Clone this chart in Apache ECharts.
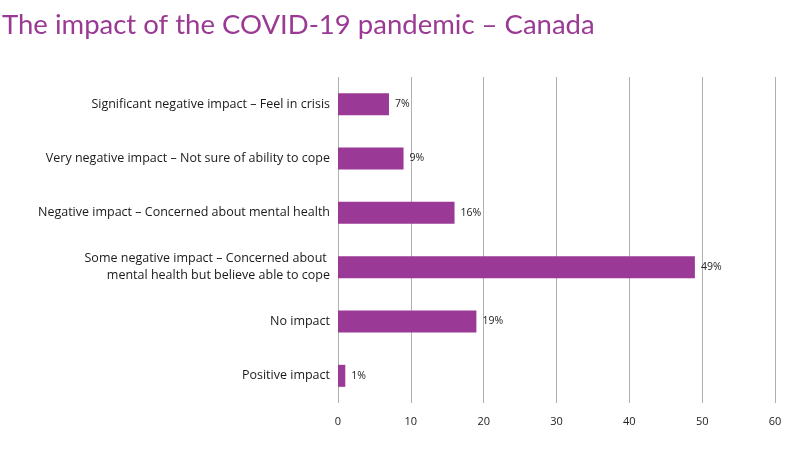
<!DOCTYPE html>
<html>
<head>
<meta charset="utf-8">
<script src="https://cdn.jsdelivr.net/npm/echarts@6/dist/echarts.min.js"></script>
<style>html,body{margin:0;padding:0;background:#fff;}#c{width:800px;height:450px;}</style>
</head>
<body>
<div id="c"></div>
<script>
var categories = [
  "Significant negative impact – Feel in crisis",
  "Very negative impact – Not sure of ability to cope",
  "Negative impact – Concerned about mental health",
  "Some negative impact – Concerned about \nmental health but believe able to cope",
  "No impact",
  "Positive impact"
];
var values = [7, 9, 16, 49, 19, 1];
var xTicks = [0, 10, 20, 30, 40, 50, 60];

var chart = echarts.init(document.getElementById('c'));
chart.setOption({
  animation: false,
  title: {
    text: 'The impact of the COVID-19 pandemic – Canada',
    left: -3, top: 6,
    textStyle: { color: '#9b3a94', fontSize: 27.5, fontWeight: 'normal', fontFamily: 'Lato' }
  },
  grid: { left: 338, right: 25, top: 77, bottom: 47 },
  xAxis: {
    type: 'value', min: xTicks[0], max: xTicks[xTicks.length-1], interval: 10,
    axisLine: { show: false }, axisTick: { show: false },
    splitLine: { lineStyle: { color: '#b0b0b0', width: 1 } },
    axisLabel: { color: '#222', fontSize: 11, margin: 13, fontFamily: 'Open Sans' }
  },
  yAxis: {
    type: 'category', data: categories, inverse: true,
    axisLine: { show: false }, axisTick: { show: false },
    axisLabel: { color: '#1a1a1a', fontSize: 12.5, margin: 8, lineHeight: 17, fontFamily: 'Open Sans' }
  },
  series: [{
    type: 'bar', data: values, barWidth: 22,
    itemStyle: { color: '#9b3a96' },
    label: { show: true, position: 'right', distance: 6, formatter: '{c}%', color: '#222', fontSize: 10.5, fontFamily: 'Open Sans' }
  }]
});
</script>
</body>
</html>
